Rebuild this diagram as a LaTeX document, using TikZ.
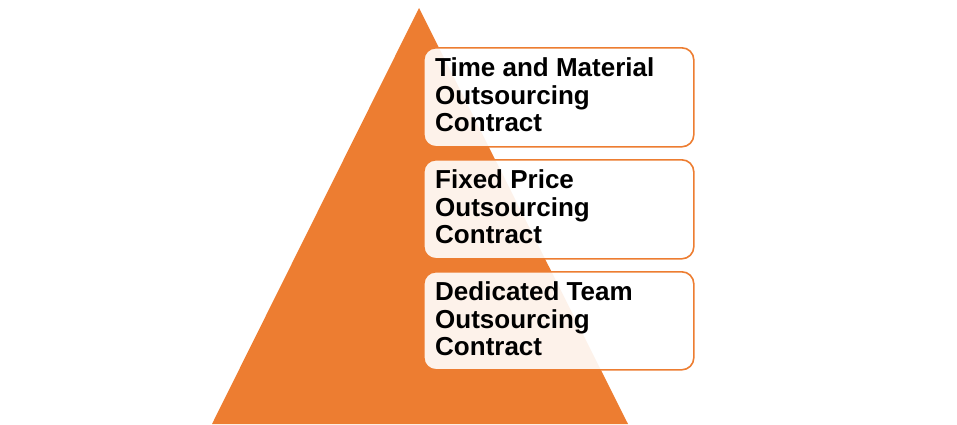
\documentclass[tikz,border=0pt]{standalone}
\usepackage{fontspec}
\setmainfont{Liberation Sans}
\definecolor{offorange}{HTML}{ED7D31}
\begin{document}
\begin{tikzpicture}[x=1pt,y=-1pt,
  tier/.style={draw=offorange,line width=1.6pt,fill=white,fill opacity=0.9,text opacity=1,
    rounded corners=12pt,minimum width=270pt,minimum height=99pt,
    anchor=north west,inner sep=0pt},
  tiertext/.style={anchor=north west,align=left,inner sep=0pt,
    font=\fontsize{26}{27.5}\selectfont\bfseries}]
\useasboundingbox (0,0) rectangle (957,424);
\fill[offorange] (419,8) coordinate (apex) -- (628,424) coordinate (br) -- (212,424) coordinate (bl) -- cycle;
\node[tier] (b1) at (423,47) {};
\node[tier] (b2) at (423,159) {};
\node[tier,minimum height=98pt] (b3) at (423,271) {};
\node[tiertext] (t1) at (435,57.5) {Time and Material\\Outsourcing\\Contract};
\node[tiertext] (t2) at (435,169.5) {Fixed Price\\Outsourcing\\Contract};
\node[tiertext] (t3) at (435,281.5) {Dedicated Team\\Outsourcing\\Contract};
\end{tikzpicture}
\end{document}
